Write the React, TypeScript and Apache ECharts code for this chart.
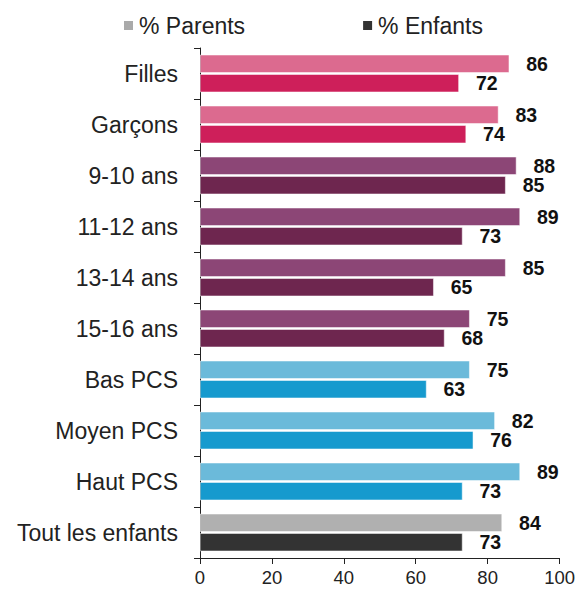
import React, { useEffect, useRef } from "react";
import * as echarts from "echarts";

const categories = [
  "Filles",
  "Garçons",
  "9-10 ans",
  "11-12 ans",
  "13-14 ans",
  "15-16 ans",
  "Bas PCS",
  "Moyen PCS",
  "Haut PCS",
  "Tout les enfants",
];
const parents = [86, 83, 88, 89, 85, 75, 75, 82, 89, 84];
const enfants = [72, 74, 85, 73, 65, 68, 63, 76, 73, 73];
const xTicks = [0, 20, 40, 60, 80, 100];

const parentColors = [
  "#DC6A8F", "#DC6A8F",
  "#8C4676", "#8C4676", "#8C4676", "#8C4676",
  "#6BBADA", "#6BBADA", "#6BBADA",
  "#B0B0B0",
];
const enfantColors = [
  "#CE1F5A", "#CE1F5A",
  "#6E264F", "#6E264F", "#6E264F", "#6E264F",
  "#169ACE", "#169ACE", "#169ACE",
  "#333333",
];

const FONT = "Liberation Sans, Arial, sans-serif";

export default function App() {
  const ref = useRef<HTMLDivElement>(null);
  useEffect(() => {
    if (!ref.current) return;
    const chart = echarts.init(ref.current, null, { renderer: "svg" });
    const labelCfg = {
      show: true,
      position: "right",
      distance: 17,
      fontFamily: FONT,
      fontSize: 19.5,
      fontWeight: "bold",
      color: "#111",
    };
    chart.setOption({
      animation: false,
      backgroundColor: "#fff",
      textStyle: { fontFamily: FONT },
      legend: {
        top: 9,
        left: 117,
        itemGap: 116,
        itemWidth: 11,
        itemHeight: 11,
        icon: "rect",
        textStyle: { fontFamily: FONT, fontSize: 23, color: "#222" },
        data: ["% Parents", "% Enfants"],
      },
      grid: { left: 200, right: 18, top: 48, bottom: 31, containLabel: false },
      xAxis: {
        type: "value",
        min: 0,
        max: 100,
        interval: 20,
        axisLine: { show: true, lineStyle: { color: "#222", width: 1 } },
        axisTick: { show: true, length: 6, lineStyle: { color: "#222" } },
        splitLine: { show: false },
        axisLabel: {
          fontFamily: FONT,
          fontSize: 18.5,
          color: "#222",
          margin: 10,
          formatter: (v: number) => (xTicks.includes(v) ? String(v) : ""),
        },
      },
      yAxis: {
        type: "category",
        inverse: true,
        data: categories,
        axisLine: { show: true, lineStyle: { color: "#222", width: 1 } },
        axisTick: { show: true, length: 6, lineStyle: { color: "#222" } },
        axisLabel: {
          fontFamily: FONT,
          fontSize: 23,
          color: "#222",
          margin: 22,
        },
      },
      series: [
        {
          name: "% Parents",
          type: "bar",
          barWidth: 18,
          barGap: "8%",
          itemStyle: { color: "#AAAAAA", borderColor: "#fff", borderWidth: 0.5 },
          label: labelCfg,
          data: parents.map((v, i) => ({ value: v, itemStyle: { color: parentColors[i] } })),
        },
        {
          name: "% Enfants",
          type: "bar",
          barWidth: 18,
          barGap: "8%",
          itemStyle: { color: "#333333", borderColor: "#fff", borderWidth: 0.5 },
          label: labelCfg,
          data: enfants.map((v, i) => ({ value: v, itemStyle: { color: enfantColors[i] } })),
        },
      ],
    });
    return () => chart.dispose();
  }, []);
  return (
    <div
      ref={ref}
      style={{ position: "fixed", left: 0, top: 0, width: 578, height: 589 }}
    />
  );
}
